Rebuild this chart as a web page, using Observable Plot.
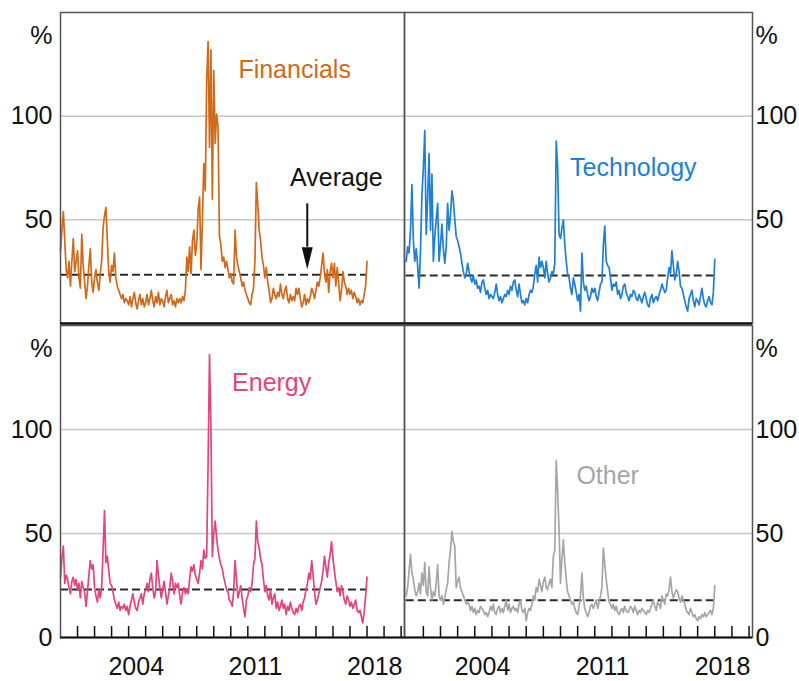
<!DOCTYPE html>
<html>
<head>
<meta charset="utf-8">
<script src="https://cdn.jsdelivr.net/npm/d3@7"></script>
<script src="https://cdn.jsdelivr.net/npm/@observablehq/plot@0.6"></script>
<style>
  body { margin: 0; background: #fff; }
  #chart { position: relative; width: 799px; height: 681px; overflow: hidden; background: #fff; }
  #chart svg { position: absolute; left: 0; top: 0; }
</style>
</head>
<body>
<div id="chart"></div>
<script>
// ---- Data (monthly, Jan 2000 - Jan 2018) ----
const startYear = 2000;

const financials = [
  35,45,54,40,26,22,30,18,30,41,25,30,
  35,22,17,43,28,20,12,18,28,36,20,15,
  22,26,20,16,24,30,46,52,56,40,25,20,
  28,25,34,22,18,16,14,12,14,10,12,11,
  9,13,8,12,15,10,7,11,14,9,12,8,
  10,14,9,12,16,11,8,13,10,15,9,12,
  11,8,13,16,10,12,14,9,11,8,12,10,
  12,10,13,11,16,32,25,37,24,40,45,33,
  38,55,61,26,50,77,64,117,136,85,132,60,
  122,87,101,95,42,38,30,32,27,30,26,22,
  24,20,19,45,32,28,25,22,18,20,16,14,
  12,10,9,14,17,30,68,58,45,40,32,28,
  22,27,20,16,10,12,17,14,12,15,13,19,
  14,12,16,18,12,10,14,11,13,11,17,14,
  17,12,8,10,14,9,12,10,13,17,15,12,
  16,20,18,22,28,34,24,20,26,15,25,29,
  22,29,18,27,20,11,16,25,20,18,14,17,
  14,16,12,15,13,10,12,9,11,10,14,18,
  30
];

const technology = [
  30,37,34,45,67,40,30,36,28,17,35,62,
  75,93,43,60,82,45,72,30,42,50,58,30,
  38,48,36,29,37,58,45,52,64,59,50,42,
  40,37,34,29,25,22,24,29,25,22,20,23,
  19,21,17,18,15,20,21,17,14,16,12,14,
  13,12,15,19,14,11,13,10,12,14,13,16,
  14,18,16,20,21,16,13,19,14,10,11,9,
  12,10,14,16,15,18,24,28,20,32,27,30,
  27,22,30,24,20,22,25,24,29,88,75,43,
  41,46,50,38,30,24,22,17,14,22,19,15,
  11,14,6,34,20,16,18,14,11,13,17,15,
  17,13,11,15,19,20,38,47,30,28,27,22,
  16,19,18,20,14,16,12,14,18,19,15,13,
  11,14,13,16,15,12,11,14,12,10,13,15,
  12,9,8,12,14,10,12,13,11,14,16,19,
  17,15,16,22,27,24,35,28,21,24,30,25,
  18,17,14,11,8,6,12,14,16,11,8,12,
  11,9,13,17,12,9,8,11,13,10,9,15,
  31
];

const energy = [
  29,38,44,26,30,28,24,21,27,29,25,28,
  23,26,19,27,24,22,15,22,30,37,33,35,
  24,20,17,23,19,24,42,61,36,39,32,26,
  25,22,18,16,14,17,13,15,14,16,13,15,
  11,15,18,21,17,14,13,17,19,21,16,21,
  23,26,22,28,31,24,19,22,37,30,24,19,
  23,27,22,16,20,24,31,27,21,26,24,26,
  20,16,22,24,21,23,21,28,34,32,35,30,
  28,26,31,37,33,42,38,39,84,136,100,39,
  50,56,48,42,38,35,33,29,26,23,22,18,
  17,15,22,37,28,19,22,25,19,14,10,18,
  20,24,22,26,35,38,56,46,43,38,35,28,
  22,25,20,18,23,16,19,21,14,17,13,15,
  18,14,16,11,15,13,17,14,12,11,14,12,
  15,16,13,17,19,23,26,31,28,37,30,22,
  16,18,21,24,27,32,39,34,29,36,40,46,
  38,32,27,22,24,20,25,22,18,16,20,18,
  15,17,14,16,18,13,12,13,10,7,12,20,
  29
];

const other = [
  20,24,32,40,31,28,23,20,22,26,21,31,
  25,36,22,20,34,24,18,22,20,26,35,20,
  18,20,16,19,23,26,36,42,51,46,44,24,
  27,29,24,22,20,18,16,17,16,13,15,12,
  14,11,13,12,15,14,13,11,12,10,12,15,
  13,16,12,11,14,15,12,14,12,15,18,13,
  16,12,14,15,13,14,12,16,18,13,12,14,
  8,12,14,13,16,20,18,24,22,28,25,22,
  27,29,24,23,26,28,24,39,42,85,70,52,
  26,38,47,36,28,22,20,18,16,17,14,12,
  11,15,20,31,19,14,12,10,12,15,16,14,
  16,18,14,17,20,24,43,35,28,22,17,16,
  14,16,13,15,12,11,13,14,12,15,13,12,
  13,15,14,12,15,13,11,13,12,14,13,12,
  11,13,12,14,16,18,15,13,17,16,14,20,
  18,16,21,20,23,29,22,19,21,23,22,19,
  17,20,18,16,13,12,11,14,12,10,11,9,
  8,10,9,11,10,12,10,11,12,13,11,14,
  25
];

const sectorNames = ["Financials", "Technology", "Energy", "Other"];
const averageValues = [23.5, 23.2, 23.1, 17.9];
const yearTicks = [2001,2002,2003,2004,2005,2006,2007,2008,2009,2010,2011,2012,2013,2014,2015,2016,2017,2018,2019,2020];
const yearLabels = [2004, 2011, 2018];
const yTicksTop = [50, 100];
const yTicksBottom = [0, 50, 100];
const averageLabel = "Average";
const unitLabel = "%";

// ---- Layout / style ----
const W = 799, H = 681;
const FONT = "'Liberation Sans', Arial, Helvetica, sans-serif";
const toSeries = vals => vals.map((v, i) => ({date: startYear + i / 12, value: v}));

const cols = {
  left:  {marginLeft: 60,  marginRight: 395, domain: [2000, 2020.2]},
  right: {marginLeft: 404, marginRight: 47,  domain: [1999.9, 2020.2]}
};
const rows = {
  top:    {marginTop: 12,  marginBottom: 358},
  bottom: {marginTop: 325, marginBottom: 44}
};

const panels = [
  {i: 0, values: financials, color: "#cf6a1c", col: "left",  row: "top",    label: [2013.75, 122.5]},
  {i: 1, values: technology, color: "#1f7fd3", col: "right", row: "top",    label: [2013.25, 74.8]},
  {i: 2, values: energy,     color: "#e0457e", col: "left",  row: "bottom", label: [2012.4, 122.3]},
  {i: 3, values: other,      color: "#a6a6a6", col: "right", row: "bottom", label: [2011.75, 77.5]}
];

const container = document.getElementById("chart");

for (const p of panels) {
  const c = cols[p.col], r = rows[p.row];
  const series = toSeries(p.values);
  const lastDate = series[series.length - 1].date;
  const innerH = H - r.marginTop - r.marginBottom;
  const isLeft = p.col === "left";
  const isBottom = p.row === "bottom";

  const marks = [
    Plot.gridY(yTicksTop, {stroke: "#c6c6c6", strokeOpacity: 1, strokeWidth: 1.5}),
    Plot.ruleY([averageValues[p.i]], {x1: startYear, x2: lastDate, stroke: "#2a2a2a", strokeWidth: 2, strokeDasharray: "8,4"}),
    Plot.line(series, {x: "date", y: "value", stroke: p.color, strokeWidth: 1.7}),
    Plot.frame({stroke: "#555", strokeWidth: 1.5}),
    Plot.ruleY([0], {stroke: "#111", strokeWidth: isBottom ? 2 : 2.5}),
    Plot.axisY(isBottom ? yTicksBottom : yTicksTop, {
      anchor: isLeft ? "left" : "right", tickSize: 0, tickPadding: isLeft ? 8 : 3, label: null
    }),
    Plot.text([unitLabel], {
      frameAnchor: isLeft ? "top-left" : "top-right",
      textAnchor: isLeft ? "end" : "start",
      dx: isLeft ? -8 : 3, dy: 14, fontSize: 25, fill: "#111"
    }),
    Plot.text([sectorNames[p.i]], {x: p.label[0], y: p.label[1], fill: p.color, fontSize: 25, lineAnchor: "middle"})
  ];

  if (isBottom) {
    marks.push(
      Plot.tickX(yearTicks, {x: d => d, stroke: "#111", strokeWidth: 1.5, insetTop: innerH - 11}),
      Plot.axisX(yearLabels.map(y => y + 0.45), {
        anchor: "bottom", tickSize: 0, tickPadding: 20, label: null,
        tickFormat: d => String(Math.floor(d))
      })
    );
  }

  if (p.i === 0) {
    const arrow = [{x: 2014.49, y1: 57.7, y2: 36.8}];
    marks.push(
      Plot.text([averageLabel], {x: 2016.2, y: 70.2, fill: "#111", fontSize: 25, lineAnchor: "middle"}),
      Plot.ruleX(arrow, {x: "x", y1: "y1", y2: "y2", stroke: "#111", strokeWidth: 2}),
      Plot.vector(arrow, {x: "x", y: "y2", length: 22, r: 5.5, rotate: 180, shape: "spike", anchor: "start", fill: "#111", stroke: "none"})
    );
  }

  const svg = Plot.plot({
    width: W, height: H,
    marginLeft: c.marginLeft, marginRight: c.marginRight,
    marginTop: r.marginTop, marginBottom: r.marginBottom,
    x: {domain: c.domain, axis: isBottom ? undefined : null},
    y: {domain: [0, 150]},
    style: {background: "transparent", fontFamily: FONT, fontSize: "25px", color: "#111", overflow: "visible"},
    marks
  });
  container.appendChild(svg);
}
</script>
</body>
</html>
